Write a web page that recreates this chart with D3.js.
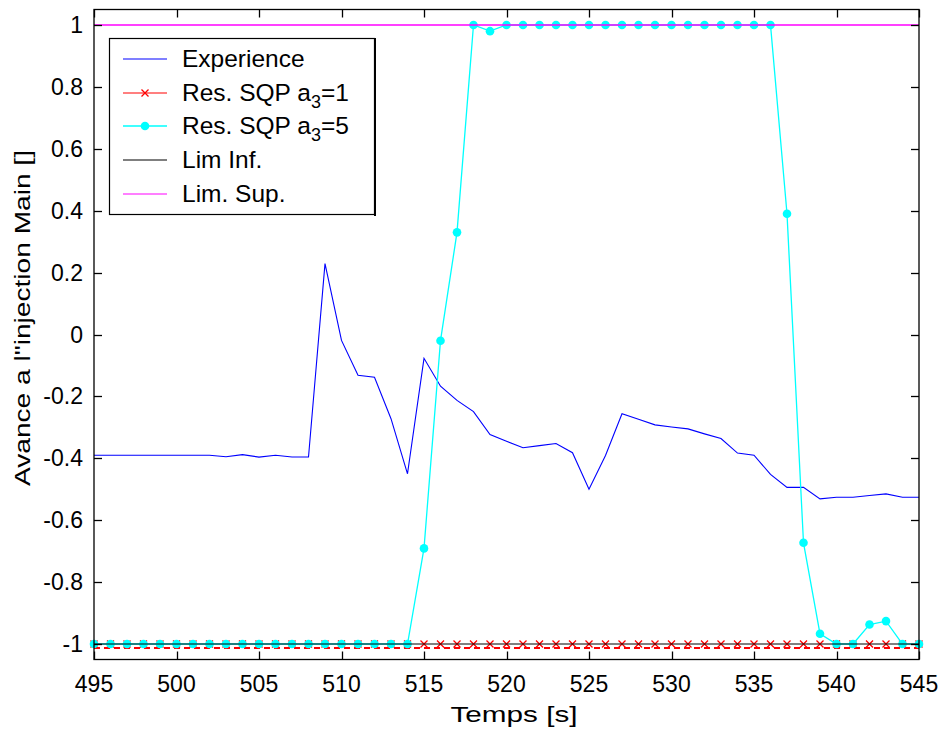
<!DOCTYPE html>
<html>
<head>
<meta charset="utf-8">
<script src="https://cdn.jsdelivr.net/npm/d3@7"></script>
<style>
  html, body { margin: 0; padding: 0; background: #fff; }
  svg { display: block; }
  text { font-family: "Liberation Sans", Arial, sans-serif; fill: #000; }
</style>
</head>
<body>
<svg id="chart" width="944" height="731"></svg>
<script>
// ---- data ----
const times = d3.range(495, 546); // 495..545 s
const experience = [
  -0.39, -0.39, -0.39, -0.39, -0.39, -0.39, -0.39, -0.39, -0.395, -0.388,
  -0.396, -0.39, -0.396, -0.396, 0.229, -0.019, -0.132, -0.138, -0.272, -0.45,
  -0.077, -0.167, -0.213, -0.249, -0.323, -0.345, -0.366, -0.359, -0.352, -0.382,
  -0.50, -0.391, -0.256, -0.274, -0.292, -0.299, -0.305, -0.321, -0.336, -0.383,
  -0.39, -0.452, -0.494, -0.494, -0.531, -0.526, -0.526, -0.52, -0.515, -0.526,
  -0.526
];
const sqpA1 = times.map(() => -1);
const sqpA5 = [
  -1, -1, -1, -1, -1, -1, -1, -1, -1, -1,
  -1, -1, -1, -1, -1, -1, -1, -1, -1, -1,
  -0.691, -0.02, 0.33, 1.0, 0.98, 1, 1, 1, 1, 1,
  1, 1, 1, 1, 1, 1, 1, 1, 1, 1,
  1, 1, 0.39, -0.673, -0.967, -1, -1, -0.937, -0.926, -1,
  -1
];
const limInf = times.map(() => -1);
const limSup = times.map(() => 1);
const xTicks = [495, 500, 505, 510, 515, 520, 525, 530, 535, 540, 545];
const yTicks = [-1, -0.8, -0.6, -0.4, -0.2, 0, 0.2, 0.4, 0.6, 0.8, 1];
const legendNames = ["Experience", "Res. SQP a3=1", "Res. SQP a3=5", "Lim Inf.", "Lim. Sup."];
const xLabel = "Temps [s]";
const yLabel = "Avance a l\"injection Main []";

// ---- layout ----
const svg = d3.select("#chart");
const L = 94, R = 919, T = 9.5, B = 659.5;
const x = d3.scaleLinear().domain([495, 545]).range([L, R]);
const y = d3.scaleLinear().domain([-1.05, 1.05]).range([B, T]);

const colors = { exp: "#0000ff", a1: "#ff0000", a5: "#00ffff", inf: "#000000", sup: "#ff00ff" };

svg.append("rect").attr("x", L).attr("y", T).attr("width", R - L).attr("height", B - T).attr("fill", "#fff");

const plot = svg.append("g");
const line = (vals) => d3.line().x((d, i) => x(times[i])).y(d => y(d))(vals);

// Experience
plot.append("path").attr("d", line(experience)).attr("fill", "none")
  .attr("stroke", colors.exp).attr("stroke-width", 1.1);

// Res SQP a3=1 (line rendered slightly offset like the original export)
plot.append("path").attr("d", line(sqpA1)).attr("fill", "none")
  .attr("transform", "translate(0,4)")
  .attr("stroke", colors.a1).attr("stroke-width", 1.8).attr("stroke-dasharray", "6,4");
const xm = plot.append("g");
times.forEach((t, i) => {
  const cx = x(t), cy = y(sqpA1[i]), s = 3.5;
  xm.append("path").attr("d", `M${cx - s},${cy - s}L${cx + s},${cy + s}M${cx - s},${cy + s}L${cx + s},${cy - s}`)
    .attr("stroke", colors.a1).attr("stroke-width", 1.3);
});

// Res SQP a3=5
plot.append("path").attr("d", line(sqpA5)).attr("fill", "none")
  .attr("stroke", colors.a5).attr("stroke-width", 1.3);
plot.append("g").selectAll("circle").data(sqpA5).join("circle")
  .attr("cx", (d, i) => x(times[i])).attr("cy", d => y(d)).attr("r", 4.3)
  .attr("fill", colors.a5);

// Limits
plot.append("path").attr("d", line(limInf)).attr("fill", "none")
  .attr("stroke", colors.inf).attr("stroke-width", 1.1);
plot.append("path").attr("d", line(limSup)).attr("fill", "none")
  .attr("stroke", colors.sup).attr("stroke-width", 1.3);

// ---- axes box ----
const tickLen = 8;
const axes = svg.append("g").attr("stroke", "#000").attr("stroke-width", 1.3);
axes.append("rect").attr("x", L).attr("y", T).attr("width", R - L).attr("height", B - T).attr("fill", "none");
xTicks.forEach(t => {
  const px = Math.round(x(t)) + 0.5;
  axes.append("line").attr("x1", px).attr("x2", px).attr("y1", B).attr("y2", B - tickLen);
  axes.append("line").attr("x1", px).attr("x2", px).attr("y1", T).attr("y2", T + tickLen);
});
yTicks.forEach(t => {
  const py = Math.round(y(t)) + 0.5;
  axes.append("line").attr("x1", L).attr("x2", L + tickLen).attr("y1", py).attr("y2", py);
  axes.append("line").attr("x1", R).attr("x2", R - tickLen).attr("y1", py).attr("y2", py);
});

// tick labels
const fmt = d => String(d);
svg.append("g").selectAll("text").data(xTicks).join("text")
  .attr("x", d => x(d)).attr("y", 692).attr("text-anchor", "middle")
  .attr("font-size", 23).text(fmt);
svg.append("g").selectAll("text").data(yTicks).join("text")
  .attr("x", 83).attr("y", d => y(d) + 8).attr("text-anchor", "end")
  .attr("font-size", 23).text(fmt);

// axis labels
svg.append("text").attr("x", 514).attr("y", 722).attr("text-anchor", "middle")
  .attr("font-size", 22).attr("textLength", 127).attr("lengthAdjust", "spacingAndGlyphs").text(xLabel);
svg.append("text").attr("transform", "translate(30,318) rotate(-90)").attr("text-anchor", "middle")
  .attr("font-size", 22).attr("textLength", 336).attr("lengthAdjust", "spacingAndGlyphs").text(yLabel);

// ---- legend ----
const lg = svg.append("g");
lg.append("rect").attr("x", 109.5).attr("y", 38.5).attr("width", 265).attr("height", 176)
  .attr("fill", "#fff").attr("stroke", "#000").attr("stroke-width", 1.2);
lg.append("line").attr("x1", 375).attr("x2", 375).attr("y1", 38).attr("y2", 216)
  .attr("stroke", "#000").attr("stroke-width", 2);
const rowY = [59, 93, 126, 160, 194];
const keys = ["exp", "a1", "a5", "inf", "sup"];
legendNames.forEach((name, i) => {
  const yy = rowY[i];
  lg.append("line").attr("x1", 123).attr("x2", 167).attr("y1", yy).attr("y2", yy)
    .attr("stroke", colors[keys[i]]).attr("stroke-width", keys[i] === "a5" ? 1.5 : 1.2);
  if (keys[i] === "a1") {
    const cx = 145, s = 3.5;
    lg.append("path").attr("d", `M${cx - s},${yy - s}L${cx + s},${yy + s}M${cx - s},${yy + s}L${cx + s},${yy - s}`)
      .attr("stroke", colors.a1).attr("stroke-width", 1.3);
  }
  if (keys[i] === "a5") {
    lg.append("circle").attr("cx", 145).attr("cy", yy).attr("r", 4.3).attr("fill", colors.a5);
  }
  const t = lg.append("text").attr("x", 182).attr("y", yy + 8).attr("font-size", 24.5);
  const m = name.match(/^(.*a)(\d)(=.*)$/);
  if (m) {
    t.append("tspan").text(m[1]);
    t.append("tspan").attr("font-size", 18).attr("dy", 7).text(m[2]);
    t.append("tspan").attr("dy", -7).text(m[3]);
  } else {
    t.text(name);
  }
});
</script>
</body>
</html>
